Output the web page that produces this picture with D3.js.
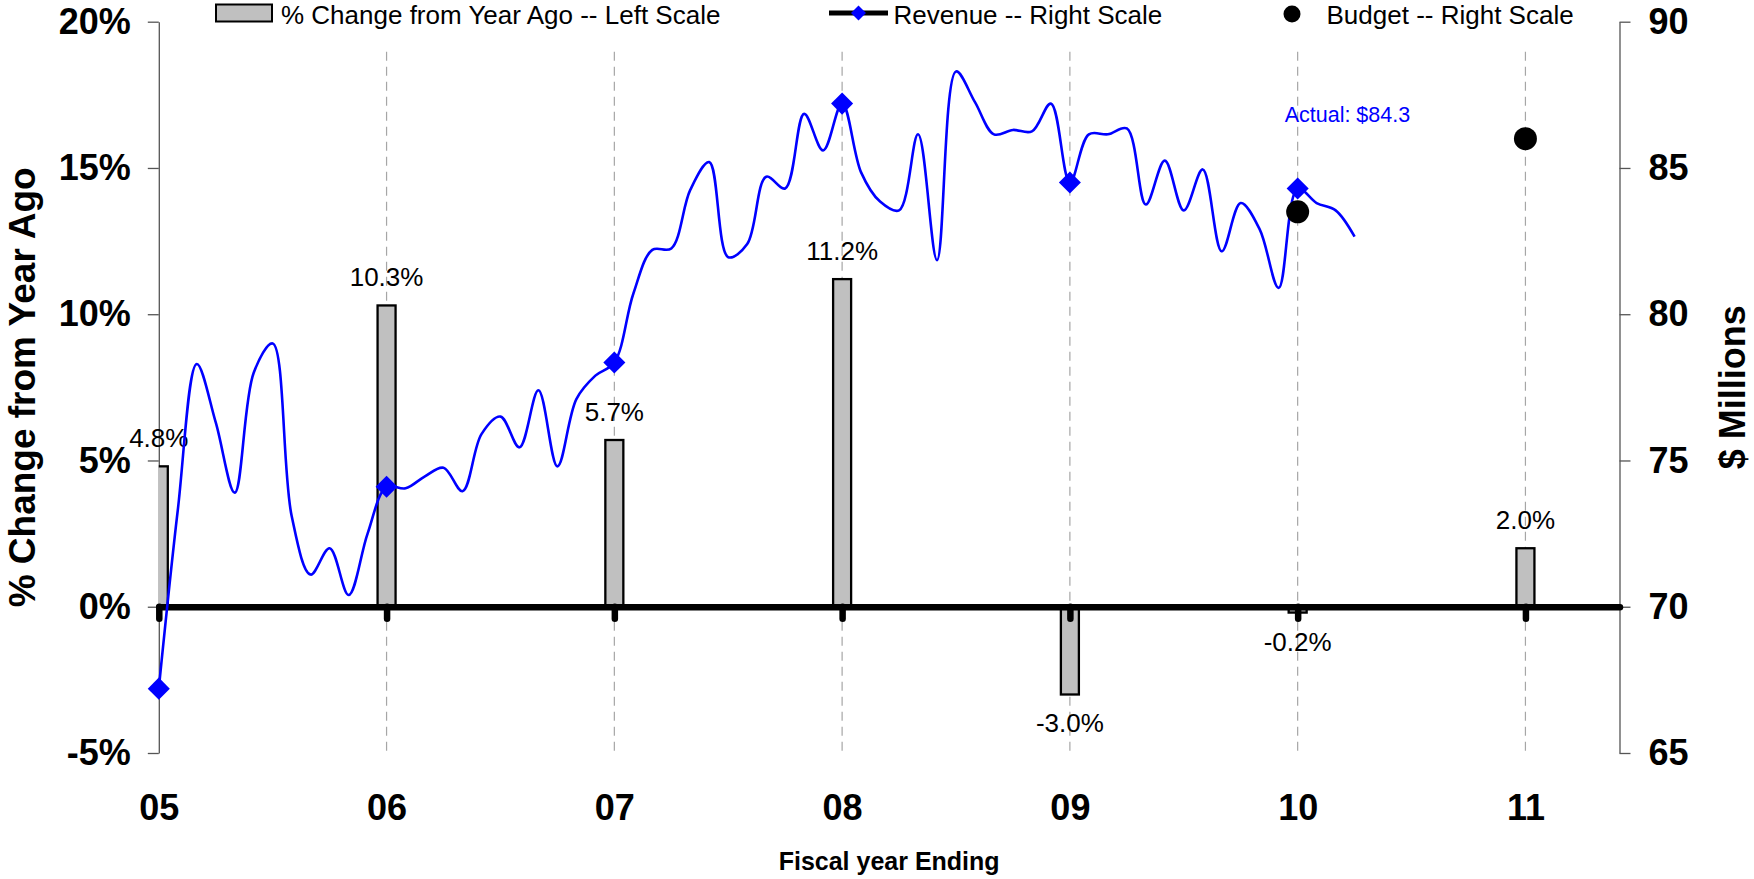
<!DOCTYPE html>
<html>
<head>
<meta charset="utf-8">
<script src="https://cdn.jsdelivr.net/npm/d3@7"></script>
<style>
  html, body { margin: 0; padding: 0; background: #fff; }
  svg { display: block; font-family: "Liberation Sans", Arial, Helvetica, sans-serif; }
</style>
</head>
<body>
<svg id="chart" width="1754" height="879"></svg>
<script>
// ---- data ----
const yearLabels   = ["05", "06", "07", "08", "09", "10", "11"];
const fiscalYears  = [2005, 2006, 2007, 2008, 2009, 2010, 2011];
const pctChange    = [4.8, 10.3, 5.7, 11.2, -3.0, -0.2, 2.0];   // % change from year ago (left scale)

// monthly revenue, $ millions (right scale), starting at fiscal year end 2005
const revenueStart = 2005;
const revenueMonthly = [
  67.2, 73.3, 78.3, 76.3, 73.9, 78.0, 79.0, 73.1, 71.1, 72.0, 70.4, 72.5,
  74.1, 74.05, 74.45, 74.75, 73.95, 75.9, 76.5, 75.45, 77.4, 74.8, 77.1, 77.9,
  78.35, 80.7, 82.2, 82.25, 84.25, 85.2, 81.95, 82.4, 84.7, 84.3, 86.85, 85.6,
  87.2, 84.85, 83.85, 83.55, 86.15, 81.85, 88.3, 87.25, 86.15, 86.3, 86.25, 87.2,
  84.5, 86.15, 86.15, 86.35, 83.75, 85.25, 83.55, 84.95, 82.15, 83.8, 82.9, 80.9,
  84.3, 83.8, 83.55, 82.65
];

const budgetYears  = [2010, 2011];
const budgetValues = [83.5, 86.0];

const pctTicks    = [-5, 0, 5, 10, 15, 20];
const dollarTicks = [65, 70, 75, 80, 85, 90];

const legendLabels = ["% Change from Year Ago -- Left Scale", "Revenue -- Right Scale", "Budget -- Right Scale"];
const actualNote   = "Actual: $84.3";
const actualValue  = 84.3;

// ---- layout ----
const W = 1754, H = 879;
const plot = { left: 158.8, right: 1619.5, top: 21.7, bottom: 753 };

const svg = d3.select("#chart");

const x  = d3.scaleLinear().domain([2005, 2011.413]).range([plot.left, plot.right]);
const yL = d3.scaleLinear().domain([-5, 20]).range([plot.bottom, plot.top]);
const yR = d3.scaleLinear().domain([65, 90]).range([plot.bottom, plot.top]);

svg.append("defs").append("clipPath").attr("id", "plotClip")
  .append("rect")
  .attr("x", plot.left).attr("y", 0)
  .attr("width", plot.right - plot.left).attr("height", H);

// ---- vertical dashed gridlines ----
svg.append("g").selectAll("line")
  .data(fiscalYears.slice(1))
  .join("line")
  .attr("x1", d => x(d)).attr("x2", d => x(d))
  .attr("y1", 51.7).attr("y2", plot.bottom)
  .attr("stroke", "#a6a6a6")
  .attr("stroke-width", 1.2)
  .attr("stroke-dasharray", "9,6");

// ---- left axis ----
const leftAxis = svg.append("g")
  .attr("transform", `translate(${plot.left},0)`)
  .call(d3.axisLeft(yL).tickValues(pctTicks).tickFormat(d => d + "%")
    .tickSize(11).tickSizeOuter(0).tickPadding(17));
leftAxis.select(".domain").attr("stroke", "#555").attr("stroke-width", 1.3);
leftAxis.selectAll(".tick line").attr("stroke", "#555").attr("stroke-width", 1.3);
leftAxis.selectAll(".tick text")
  .attr("font-size", 36).attr("font-weight", "bold").attr("fill", "#000")
  .attr("font-family", "Liberation Sans, Arial, sans-serif");

// ---- right axis ----
const rightAxis = svg.append("g")
  .attr("transform", `translate(${plot.right},0)`)
  .call(d3.axisRight(yR).tickValues(dollarTicks)
    .tickSize(11).tickSizeOuter(0).tickPadding(18));
rightAxis.select(".domain").attr("stroke", "#555").attr("stroke-width", 1.3);
rightAxis.selectAll(".tick line").attr("stroke", "#555").attr("stroke-width", 1.3);
rightAxis.selectAll(".tick text")
  .attr("font-size", 36).attr("font-weight", "bold").attr("fill", "#000")
  .attr("font-family", "Liberation Sans, Arial, sans-serif");

// ---- bars: % change from year ago ----
const barW = 18;
svg.append("g").attr("clip-path", "url(#plotClip)")
  .selectAll("rect")
  .data(pctChange)
  .join("rect")
  .attr("x", (d, i) => x(fiscalYears[i]) - barW / 2)
  .attr("y", d => yL(Math.max(0, d)))
  .attr("width", barW)
  .attr("height", d => Math.abs(yL(d) - yL(0)))
  .attr("fill", "#c0c0c0")
  .attr("stroke", "#000")
  .attr("stroke-width", 2.3);

// ---- category axis on the zero line ----
const xAxis = svg.append("g")
  .attr("transform", `translate(0,${yL(0)})`)
  .call(d3.axisBottom(x).tickValues(fiscalYears)
    .tickFormat((d, i) => yearLabels[i])
    .tickSize(12).tickSizeOuter(0).tickPadding(176));
xAxis.select(".domain")
  .attr("stroke", "#000").attr("stroke-width", 6.5).attr("stroke-linecap", "round");
xAxis.selectAll(".tick line")
  .attr("stroke", "#000").attr("stroke-width", 6.5).attr("stroke-linecap", "round");
xAxis.selectAll(".tick text")
  .attr("font-size", 36).attr("font-weight", "bold").attr("fill", "#000")
  .attr("font-family", "Liberation Sans, Arial, sans-serif");

// ---- bar value labels ----
svg.append("g").selectAll("text")
  .data(pctChange)
  .join("text")
  .attr("x", (d, i) => x(fiscalYears[i]))
  .attr("y", d => d >= 0 ? yL(d) - 19 : yL(d) + 38)
  .attr("text-anchor", "middle")
  .attr("font-size", 26)
  .attr("fill", "#000")
  .text(d => d.toFixed(1) + "%");

// ---- revenue line ----
const revX = (d, i) => x(revenueStart + i / 12);
svg.append("path")
  .datum(revenueMonthly)
  .attr("fill", "none")
  .attr("stroke", "#0000ff")
  .attr("stroke-width", 2.6)
  .attr("stroke-linejoin", "round")
  .attr("d", d3.line().x(revX).y(d => yR(d)).curve(d3.curveCatmullRom.alpha(0.5)));

// fiscal-year-end markers on the revenue line
const markerIdx = fiscalYears
  .map(fy => (fy - revenueStart) * 12)
  .filter(i => i < revenueMonthly.length);
const diamond = d3.symbol().type(d3.symbolSquare).size(243);
svg.append("g").selectAll("path")
  .data(markerIdx)
  .join("path")
  .attr("d", diamond)
  .attr("fill", "#0000ff")
  .attr("transform", i => `translate(${revX(null, i)},${yR(revenueMonthly[i])}) rotate(45)`);

// ---- budget points ----
svg.append("g").selectAll("circle")
  .data(budgetValues)
  .join("circle")
  .attr("cx", (d, i) => x(budgetYears[i]))
  .attr("cy", d => yR(d))
  .attr("r", 11.5)
  .attr("fill", "#000");

// ---- note for latest actual ----
svg.append("text")
  .attr("x", x(2010) - 13)
  .attr("y", yR(actualValue) - 66)
  .attr("font-size", 21.5)
  .attr("fill", "#0000ff")
  .text(actualNote);

// ---- axis titles ----
svg.append("text")
  .attr("transform", `translate(35,${(plot.top + plot.bottom) / 2}) rotate(-90)`)
  .attr("text-anchor", "middle")
  .attr("font-size", 37).attr("font-weight", "bold")
  .text("% Change from Year Ago");

svg.append("text")
  .attr("transform", `translate(1745,${(plot.top + plot.bottom) / 2}) rotate(-90)`)
  .attr("text-anchor", "middle")
  .attr("font-size", 36).attr("font-weight", "bold")
  .text("$ Millions");

svg.append("text")
  .attr("x", (plot.left + plot.right) / 2)
  .attr("y", 870)
  .attr("text-anchor", "middle")
  .attr("font-size", 25).attr("font-weight", "bold")
  .text("Fiscal year Ending");

// ---- legend ----
const legend = svg.append("g").attr("font-size", 26).attr("fill", "#000");
legend.append("rect")
  .attr("x", 216).attr("y", 4.5).attr("width", 56).attr("height", 17)
  .attr("fill", "#c0c0c0").attr("stroke", "#000").attr("stroke-width", 2);
legend.append("text").attr("x", 281).attr("y", 23.5).text(legendLabels[0]);

legend.append("line")
  .attr("x1", 829).attr("x2", 888).attr("y1", 13).attr("y2", 13)
  .attr("stroke", "#000").attr("stroke-width", 5);
legend.append("path")
  .attr("d", d3.symbol().type(d3.symbolSquare).size(112))
  .attr("fill", "#0000ff")
  .attr("transform", "translate(858.5,13) rotate(45)");
legend.append("text").attr("x", 893.5).attr("y", 23.5).text(legendLabels[1]);

legend.append("circle").attr("cx", 1292).attr("cy", 14).attr("r", 8.5).attr("fill", "#000");
legend.append("text").attr("x", 1326.5).attr("y", 23.5).text(legendLabels[2]);
</script>
</body>
</html>
